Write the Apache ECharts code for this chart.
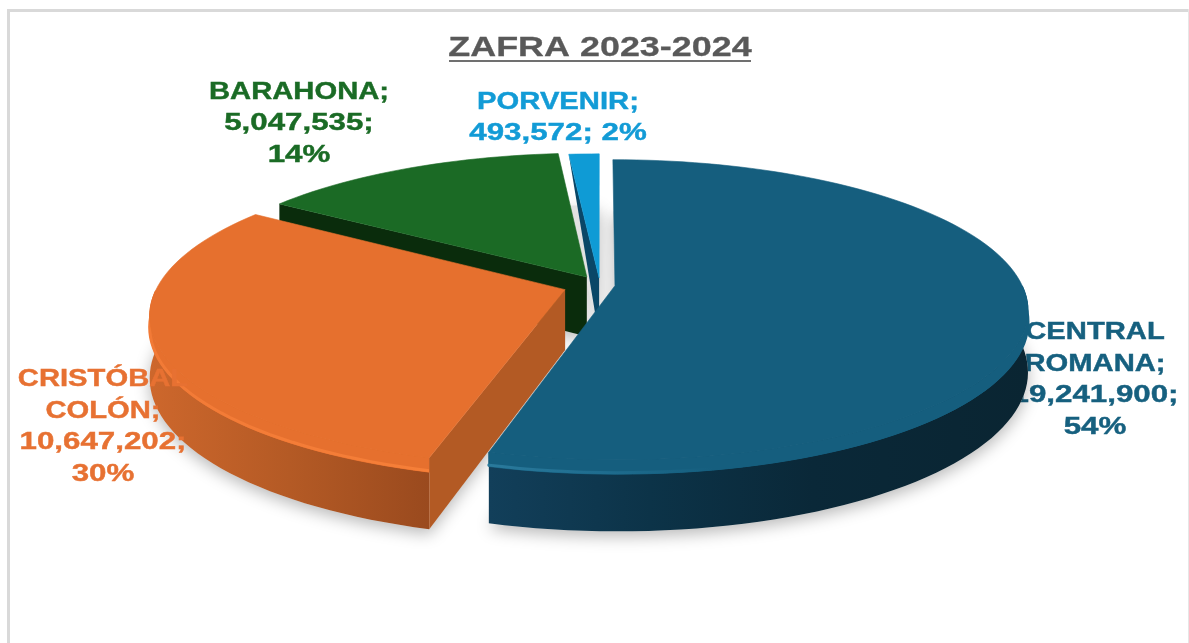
<!DOCTYPE html>
<html>
<head>
<meta charset="utf-8">
<style>html,body{margin:0;padding:0;background:#fff}#c{width:1189px;height:643px}</style>
<script src="https://cdn.jsdelivr.net/npm/echarts@6/dist/echarts.min.js"></script>
</head>
<body>
<div id="c"></div>
<script>
// ---- data ----
const titleText = 'ZAFRA 2023-2024';
const names = ['CENTRAL\nROMANA', 'CRISTÓBAL\nCOLÓN', 'BARAHONA', 'PORVENIR'];
const values = [19241900, 10647202, 5047535, 493572];
const percents = [54, 30, 14, 2];
const percentBreaks = ['\n', '\n', '\n', ' '];

// ---- styles ----
const topColors = ['#155e7e', '#e6702e', '#1b6a25', '#0f9bd5'];
const wallColors = ['#0c3148', '#b35a24', '#0a2c0c', '#0a4767'];
const labelColors = ['#16607f', '#e77132', '#1a6b25', '#129bd6'];
const sideStops = [
  [[0, '#123f5a'], [0.3, '#0c3348'], [0.6, '#0a2838'], [1, '#0a2532']],
  [[0, '#cd672c'], [0.5, '#b45a25'], [1, '#9a4a1e']],
  [[0, '#0a2c0c'], [1, '#0a2c0c']],
  [[0, '#0a4767'], [1, '#0a4767']]
];
const rimStops = [
  [[0, '#2a7a9c'], [0.25, '#1d6a8c'], [0.42, '#155e7e'], [1, '#155e7e']],
  [[0, '#f27a36'], [1, '#f67f38']]
];
// how far each slice is pulled out of the pie, as a share of the radius
const explode = [0.037, 0.091, 0.064, 0.049];
const paintOrder = [3, 2, 1, 0];
const labelAnchors = [[1095, 380], [103, 427], [299, 124], [558, 118]];
const labelLayer = [1, 100, 1, 1];

// ---- pie camera ----
const view = { cx: 600, cy: 285, R: 407, B: 146, persp: 0.16, H: 60, bevel: 0.2 };
const font = 'Liberation Sans, Arial, sans-serif';
const labelFontSize = 23, labelLine = 31.5, nameStretch = 1.27, numberStretch = 1.36;

const total = values.reduce((a, b) => a + b, 0);
function project(u, v, z) {
  const s = 1 / (1 - view.persp * v);
  return [view.cx + view.R * u * s, view.cy + (view.B * v + view.H * z) * s];
}
function fmt(n) { return String(n).replace(/\B(?=(\d{3})+$)/g, ','); }
function linear(stops) {
  return { type: 'linear', x: 0, y: 0, x2: 1, y2: 0,
    colorStops: stops.map(s => ({ offset: s[0], color: s[1] })) };
}

function renderSlice(params, api) {
  const i = params.dataIndex;
  const value = api.value(1);
  let before = 0;
  for (let j = 0; j < i; j++) before += values[j];
  const a0 = before / total * Math.PI * 2;
  const a1 = (before + value) / total * Math.PI * 2;
  const mid = (a0 + a1) / 2;
  const ox = Math.sin(mid) * explode[i];
  const oy = -Math.cos(mid) * explode[i];
  const rim = (z, frontOnly) => {
    const pts = [];
    const steps = Math.max(4, Math.round((a1 - a0) * 30));
    for (let k = 0; k <= steps; k++) {
      const a = a0 + (a1 - a0) * k / steps;
      if (!frontOnly || -Math.cos(a) > -0.02) pts.push(project(ox + Math.sin(a), oy - Math.cos(a), z));
    }
    return pts;
  };
  const apex = z => project(ox, oy, z);
  const band = (z0, z1) => rim(z0, true).concat(rim(z1, true).reverse());
  const base = paintOrder[i] * 10 + 10;
  const children = [];

  // label, one text per line
  const label = names[i] + ';\n' + fmt(value) + ';' + percentBreaks[i] + percents[i] + '%';
  const lines = label.split('\n');
  lines.forEach((line, n) => {
    children.push({
      type: 'text', x: labelAnchors[i][0],
      y: labelAnchors[i][1] + (n - (lines.length - 1) / 2) * labelLine,
      scaleX: /^\d/.test(line) ? numberStretch : nameStretch, z2: labelLayer[i],
      style: { text: line, fontFamily: font, fontWeight: 'bold', fontSize: labelFontSize,
        fill: labelColors[i], stroke: labelColors[i], lineWidth: 0.4,
        align: 'center', verticalAlign: 'middle' }
    });
  });
  // soft ground shadow from the underside of the slice
  children.push({
    type: 'polygon', z2: 5,
    shape: { points: [apex(1)].concat(rim(1)) },
    style: { fill: '#e2e2e2', shadowBlur: 16, shadowColor: 'rgba(0,0,0,0.28)', shadowOffsetY: 5 }
  });
  const hasFront = rim(0, true).length > 1;
  if (hasFront) {
    // outer wall
    children.push({
      type: 'polygon', z2: base,
      shape: { points: band(0, 1) },
      style: { fill: linear(sideStops[i]) }
    });
    // bevel band along the front of the rim
    children.push({
      type: 'polygon', z2: base + 2,
      shape: { points: band(0, view.bevel) },
      style: { fill: topColors[i], stroke: topColors[i], lineWidth: 1 }
    });
    // soft highlight on the bevel's lower edge
    children.push({
      type: 'polyline', z2: base + 3,
      shape: { points: rim(view.bevel - 0.02, true) },
      style: { fill: 'none', stroke: linear(rimStops[i]), lineWidth: 3, lineCap: 'round' }
    });
  }
  // cut wall on the slice's first edge, visible on the left half only
  if (a0 >= Math.PI) {
    const r0 = project(ox + Math.sin(a0), oy - Math.cos(a0), 0);
    const r1 = project(ox + Math.sin(a0), oy - Math.cos(a0), 1);
    const pts = (a1 - a0) < 0.2 ? [apex(0), apex(1), r0] : [apex(0), apex(1), r1, r0];
    children.push({
      type: 'polygon', z2: base + 3.5,
      shape: { points: pts },
      style: { fill: wallColors[i] }
    });
  }
  // top face
  children.push({
    type: 'polygon', z2: base + 4,
    shape: { points: [apex(0)].concat(rim(0)) },
    style: { fill: topColors[i], stroke: topColors[i], lineWidth: 0.6 }
  });
  return { type: 'group', children: children };
}

const chart = echarts.init(document.getElementById('c'), null, { renderer: 'canvas' });
chart.setOption({
  backgroundColor: '#ffffff',
  animation: false,
  graphic: [
    { type: 'rect', silent: true, shape: { x: 7, y: 9, width: 3, height: 634 }, style: { fill: '#d9d9d9' } },
    { type: 'rect', silent: true, shape: { x: 7, y: 9, width: 1182, height: 3 }, style: { fill: '#d9d9d9' } },
    { type: 'rect', silent: true, shape: { x: 1188, y: 9, width: 1, height: 634 }, style: { fill: '#e6e6e6' } },
    { type: 'text', x: 600, y: 48.5, scaleX: 1.26, silent: true,
      style: { text: titleText, fontFamily: font, fontWeight: 'bold', fontSize: 28.5, fill: '#595959',
        stroke: '#595959', lineWidth: 0.3, align: 'center', verticalAlign: 'middle' } },
    { type: 'rect', silent: true, shape: { x: 449, y: 60, width: 302, height: 2 }, style: { fill: '#707070' } }
  ],
  series: [{
    type: 'custom',
    coordinateSystem: 'none',
    silent: true,
    renderItem: renderSlice,
    data: values.map((v, i) => [i, v]),
    encode: { value: 1 }
  }]
});
</script>
</body>
</html>
